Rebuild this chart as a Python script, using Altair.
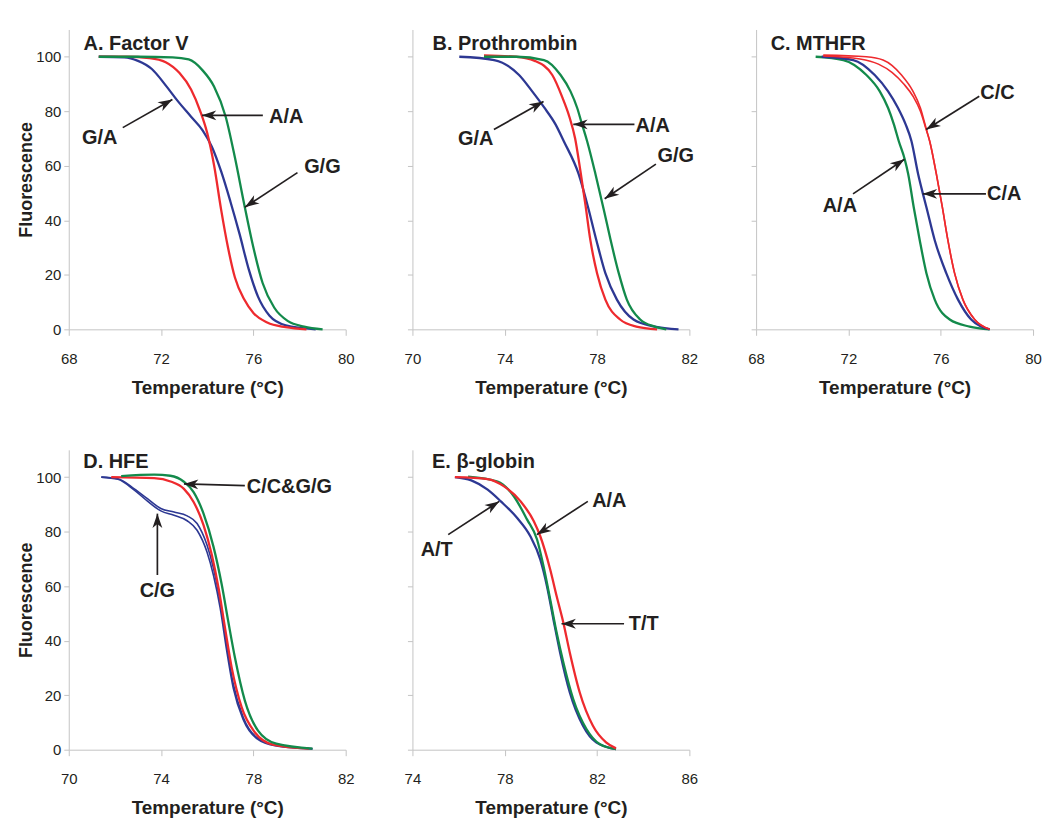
import math
import altair as alt
import pandas as pd

# ---------------- colours ----------------
GREEN = "#138a4b"
RED = "#ee2a2e"
BLUE = "#2d3893"
INK = "#231f20"
AXIS_GREY = "#c4c4c4"

# ---------------- Panel A: Factor V ----------------
A_GA_T = [69.3, 70.4, 71.0, 71.6, 72.2, 72.7, 73.3, 73.8, 74.2, 74.6, 75.0, 75.4, 75.8, 76.2, 76.7, 77.4, 78.7]
A_GA_F = [100, 99.8, 98.5, 95.5, 89.5, 84, 78, 73, 67, 58, 47, 35, 22, 12, 5, 1.5, 0]
A_AA_T = [69.3, 70.5, 71.5, 72.2, 72.8, 73.3, 73.7, 74.0, 74.3, 74.6, 74.9, 75.2, 75.6, 76.0, 76.6, 77.4, 78.3]
A_AA_F = [100, 100, 99.5, 98, 94, 88, 80, 72, 60, 44, 30, 19, 11, 6, 2.5, 0.8, 0]
A_GG_T = [69.3, 71.0, 72.5, 73.2, 73.8, 74.3, 74.8, 75.2, 75.6, 76.0, 76.4, 76.9, 77.5, 78.2, 79.0]
A_GG_F = [100, 100, 99.8, 99, 95, 89, 78, 63, 46, 30, 17, 8, 3, 1, 0]
# label, label T, label F, tail T, tail F, head T, head F
A_NOTES = [("G/A", 69.34, 70.3, 70.34, 74.0, 72.49, 84.3),
           ("A/A", 77.42, 78.0, 76.41, 78.5, 73.77, 78.5),
           ("G/G", 78.99, 59.7, 77.91, 57.5, 75.63, 44.8)]

# ---------------- Panel B: Prothrombin ----------------
B_GA_T = [72.03, 73.54, 74.62, 75.19, 75.7, 76.2, 76.56, 77.2, 77.61, 77.97, 78.36, 78.86, 79.58, 80.5, 81.53]
B_GA_F = [100, 98.8, 93.3, 87.3, 81.5, 75.2, 69, 57, 44.8, 32.7, 20.6, 10.9, 3.6, 1, 0]
B_AA_T = [73.1, 74.5, 75.3, 76.06, 76.5, 76.8, 77.05, 77.28, 77.5, 77.71, 78.0, 78.36, 79.0, 79.7, 80.6]
B_AA_F = [100.5, 100, 98.5, 93.3, 85, 78, 70, 58, 45.5, 32.7, 20.6, 10.9, 3.6, 1, 0]
B_GG_T = [73.1, 74.5, 75.7, 76.42, 76.85, 77.14, 77.35, 77.57, 77.93, 78.29, 78.58, 78.94, 79.29, 79.87, 80.5, 81.0]
B_GG_F = [100, 100, 98.8, 93.3, 87.3, 81.2, 75.2, 69, 57, 44, 33, 20.6, 10.9, 3.6, 1, 0]
B_NOTES = [("G/A", 72.74, 69.7, 73.53, 73.3, 75.68, 83.6),
           ("A/A", 80.41, 74.5, 79.62, 75.2, 76.97, 75.2),
           ("G/G", 81.41, 63.6, 80.55, 60.6, 78.33, 47.9)]

# ---------------- Panel C: MTHFR ----------------
C_AA_T = [70.58, 71.78, 72.78, 73.36, 73.72, 73.97, 74.18, 74.44, 74.59, 74.83, 75.09, 75.38, 75.74, 76.39, 77.25, 78.12]
C_AA_F = [100, 98.8, 93.3, 87.3, 81.2, 75.2, 69.1, 62.4, 57, 44.8, 32.7, 20.6, 10.9, 3.6, 1, 0]
C_CA_T = [70.84, 72.21, 73.14, 73.72, 74.15, 74.48, 74.73, 75.02, 75.23, 75.38, 75.74, 76.24, 76.75, 77.32, 78.12]
C_CA_F = [100, 98.8, 93.3, 87.3, 81.2, 75.2, 69.1, 57, 49.7, 44.8, 32.7, 20.6, 10.9, 3.6, 0]
C_CC_T = [70.91, 72.78, 73.5, 74.3, 74.8, 75.12, 75.38, 75.52, 75.81, 76.07, 76.31, 76.6, 76.96, 77.47, 78.12]
C_CC_F = [100.6, 100, 98.8, 93.3, 87.3, 81.2, 73.3, 69.1, 57, 44.8, 32.7, 20.6, 10.9, 3.6, 0]
C_CC2_T = [70.91, 72.5, 73.3, 73.9, 74.4, 74.8, 75.12, 75.38, 75.52, 75.81, 76.07, 76.31, 76.6, 76.96, 77.47, 78.12]
C_CC2_F = [100.3, 99.2, 97.3, 94.2, 90.0, 85.5, 80.0, 73.0, 69.1, 57, 44.8, 32.7, 20.6, 10.9, 3.6, 0]
C_NOTES = [("C/C", 78.46, 86.7, 77.67, 85.5, 75.37, 73.3),
           ("C/A", 78.75, 49.5, 77.96, 49.7, 75.22, 49.7),
           ("A/A", 71.63, 45.2, 72.2, 49.7, 74.43, 62.4)]

# ---------------- Panel D: HFE ----------------
D_CG_T = [71.41, 72.13, 72.84, 73.41, 73.99, 74.56, 75.13, 75.56, 75.99, 76.27, 76.56, 76.84, 77.13, 77.56, 78.13, 78.99, 80.56]
D_CG_F = [100, 99.4, 95.7, 92.1, 88.5, 87.2, 85.8, 83, 75.1, 66.6, 54.4, 38.6, 24.1, 11.9, 4.6, 1.6, 0.4]
D_CG2_T = [71.41, 72.13, 72.84, 73.41, 73.99, 74.56, 75.13, 75.56, 75.99, 76.27, 76.56, 76.84, 77.13, 77.56, 78.13, 78.99, 80.56]
D_CG2_F = [100, 99.2, 95.2, 91.2, 87.6, 86.0, 84.0, 80.5, 72.5, 64.0, 52.0, 36.5, 22.5, 11.0, 4.2, 1.4, 0.3]
D_CC_T = [71.84, 73.7, 74.41, 74.99, 75.41, 75.84, 76.2, 76.49, 76.77, 77.06, 77.49, 78.06, 78.84, 80.41]
D_CC_F = [100, 99.6, 98.4, 95.7, 90.9, 82.4, 71.4, 59.3, 44.7, 30.1, 15.6, 6.4, 1.9, 0.4]
D_GG_T = [72.27, 73.7, 74.4, 74.99, 75.41, 75.84, 76.27, 76.63, 76.91, 77.2, 77.63, 78.2, 78.99, 80.56]
D_GG_F = [100.4, 100.9, 100.5, 98.3, 94.5, 86.6, 74.5, 60.5, 47.1, 33.8, 18, 7, 2.2, 0.4]
D_NOTES = [("C/C&G/G", 79.56, 96.4, 77.63, 96.9, 74.99, 97.5),
           ("C/G", 73.84, 58.1, 73.84, 64.1, 73.84, 86.6)]

# ---------------- Panel E: beta-globin ----------------
E_AT_T = [75.84, 76.55, 77.26, 77.83, 78.54, 79.11, 79.54, 79.83, 80.11, 80.4, 80.82, 81.39, 81.96, 82.82]
E_AT_F = [100, 98.8, 95.4, 91.1, 85, 78.3, 69.8, 60, 47.8, 35.6, 21, 8.8, 2.7, 0.2]
E_AA_T = [76.41, 77.69, 78.4, 78.97, 79.4, 79.68, 79.97, 80.25, 80.54, 80.97, 81.54, 82.11, 82.82]
E_AA_F = [100.2, 98.4, 92.9, 84.4, 77.1, 67.3, 55.1, 42.9, 32, 18.5, 7.6, 2.1, 0.2]
E_TT_T = [75.84, 77.26, 77.97, 78.69, 79.26, 79.54, 79.97, 80.25, 80.54, 80.82, 81.25, 81.82, 82.39, 82.82]
E_TT_F = [100, 99.3, 96.6, 91.1, 83.8, 78.3, 66.1, 56.3, 46.6, 35.6, 21, 8.8, 2.7, 0.5]
E_NOTES = [("A/T", 75.05, 73.4, 75.55, 78.9, 77.76, 91.1),
           ("A/A", 82.53, 91.1, 81.6, 91.1, 79.39, 78.9),
           ("T/T", 84.02, 46.0, 83.17, 46.2, 80.46, 46.2)]

Y_TICKS = [0, 20, 40, 60, 80, 100]

PANEL_W = 278
PANEL_H = 301
Y_DOMAIN = [0, 110]

LABEL_FONT = "'Liberation Sans', Arial, sans-serif"
BOLD = "'Liberation Sans', Arial, sans-serif"

ARROW_PATH = "M0,0L-0.55,1.6L0,1.15L0.55,1.6Z"
W_MAIN = 2.3
W_REP = 1.6


def panel(title, title_t, title_f, xdom, xticks, curves, notes, show_y):
    xscale = alt.Scale(domain=xdom, nice=False, zero=False)
    yscale = alt.Scale(domain=Y_DOMAIN, nice=False, zero=False)
    xaxis = alt.Axis(values=xticks, title="Temperature (°C)", grid=False,
                     domainColor=AXIS_GREY, tickColor=AXIS_GREY, tickSize=6,
                     labelFont=LABEL_FONT, labelFontSize=15, labelColor=INK,
                     labelPadding=16, labelFlush=False, labelOverlap=False,
                     titleFont=BOLD, titleFontWeight="bold", titleFontSize=19,
                     titleColor=INK, titlePadding=12)
    if show_y:
        yaxis = alt.Axis(values=Y_TICKS, title="Fluorescence", grid=False,
                         domainColor=AXIS_GREY, tickColor=AXIS_GREY, tickSize=5,
                         labelFont=LABEL_FONT, labelFontSize=15, labelColor=INK,
                         labelPadding=3, labelFlush=False, labelOverlap=False,
                         titleFont=BOLD, titleFontWeight="bold", titleFontSize=18,
                         titleColor=INK, titlePadding=0)
    else:
        yaxis = alt.Axis(values=Y_TICKS, title=None, labels=False, grid=False,
                         domainColor=AXIS_GREY, tickColor=AXIS_GREY, tickSize=5)

    def X(f):
        return alt.X(f, type="quantitative", scale=xscale, axis=xaxis)

    def Y(f):
        return alt.Y(f, type="quantitative", scale=yscale, axis=yaxis)

    rows = []
    for name, col, w, ts, fs in curves:
        for t, f in zip(ts, fs):
            rows.append({"T": t, "F": f, "series": name, "col": col, "w": w})
    cdf = pd.DataFrame(rows)

    px_x = PANEL_W / (xdom[1] - xdom[0])
    px_y = PANEL_H / (Y_DOMAIN[1] - Y_DOMAIN[0])
    nrows = []
    for lab, lx, ly, tx, ty, hx, hy in notes:
        ang = math.degrees(math.atan2((hx - tx) * px_x, (hy - ty) * px_y)) % 360
        nrows.append({"label": lab, "lx": lx, "ly": ly, "tx": tx, "ty": ty,
                      "hx": hx, "hy": hy, "ang": ang})
    ndf = pd.DataFrame(nrows)

    lines = alt.Chart(cdf).mark_line(interpolate="monotone").encode(
        x=X("T"), y=Y("F"),
        color=alt.Color("col:N", scale=None),
        strokeWidth=alt.StrokeWidth("w:Q", scale=None),
        detail="series:N",
        order="T:Q",
    )
    rules = alt.Chart(ndf).mark_rule(strokeWidth=1.7, color=INK).encode(
        x=X("tx"), y=Y("ty"), x2="hx:Q", y2="hy:Q")
    heads = alt.Chart(ndf).mark_point(shape=ARROW_PATH, filled=True, size=324,
                                      color=INK, opacity=1, strokeWidth=0).encode(
        x=X("hx"), y=Y("hy"), angle=alt.Angle("ang:Q", scale=None))
    labels = alt.Chart(ndf).mark_text(font=BOLD, fontWeight="bold", fontSize=20,
                                      color=INK, align="center", baseline="middle").encode(
        x=X("lx"), y=Y("ly"), text="label:N")
    tdf = pd.DataFrame({"tt": [title_t], "tf": [title_f], "txt": [title]})
    ttl = alt.Chart(tdf).mark_text(font=BOLD, fontWeight="bold", fontSize=20,
                                   color=INK, align="left", baseline="middle").encode(
        x=X("tt"), y=Y("tf"), text="txt:N")
    return alt.layer(lines, rules, heads, labels, ttl).properties(
        width=PANEL_W, height=PANEL_H)


pA = panel("A. Factor V", 68.64, 104.6, [68, 80], [68, 72, 76, 80],
           [("GA", BLUE, W_MAIN, A_GA_T, A_GA_F), ("AA", RED, W_MAIN, A_AA_T, A_AA_F),
            ("GG", GREEN, W_MAIN, A_GG_T, A_GG_F)], A_NOTES, True)
pB = panel("B. Prothrombin", 70.87, 104.6, [70, 82], [70, 74, 78, 82],
           [("GA", BLUE, W_MAIN, B_GA_T, B_GA_F), ("AA", RED, W_MAIN, B_AA_T, B_AA_F),
            ("GG", GREEN, W_MAIN, B_GG_T, B_GG_F)], B_NOTES, False)
pC = panel("C. MTHFR", 68.63, 104.6, [68, 80], [68, 72, 76, 80],
           [("AA", GREEN, W_MAIN, C_AA_T, C_AA_F), ("CA", BLUE, W_MAIN, C_CA_T, C_CA_F),
            ("CC", RED, W_REP, C_CC_T, C_CC_F), ("CC2", RED, W_REP, C_CC2_T, C_CC2_F)],
           C_NOTES, False)
pD = panel("D. HFE", 70.63, 105.5, [70, 82], [70, 74, 78, 82],
           [("CG", BLUE, W_REP, D_CG_T, D_CG_F), ("CG2", BLUE, W_REP, D_CG2_T, D_CG2_F),
            ("CC", RED, W_MAIN, D_CC_T, D_CC_F), ("GG", GREEN, W_MAIN, D_GG_T, D_GG_F)],
           D_NOTES, True)
pE = panel("E. β-globin", 74.85, 105.5, [74, 86], [74, 78, 82, 86],
           [("AT", BLUE, W_MAIN, E_AT_T, E_AT_F), ("AA", GREEN, W_MAIN, E_AA_T, E_AA_F),
            ("TT", RED, W_MAIN, E_TT_T, E_TT_F)], E_NOTES, False)

chart = alt.concat(pA, pB, pC, pD, pE, columns=3, bounds="flush",
                   spacing=alt.RowColnumber(row=121, column=67)).properties(
    padding={"left": 9, "top": 20, "right": 0, "bottom": 0},
    background="white",
).configure_view(stroke=None)

chart.save("out.html", embed_options={"renderer": "svg", "actions": False})
